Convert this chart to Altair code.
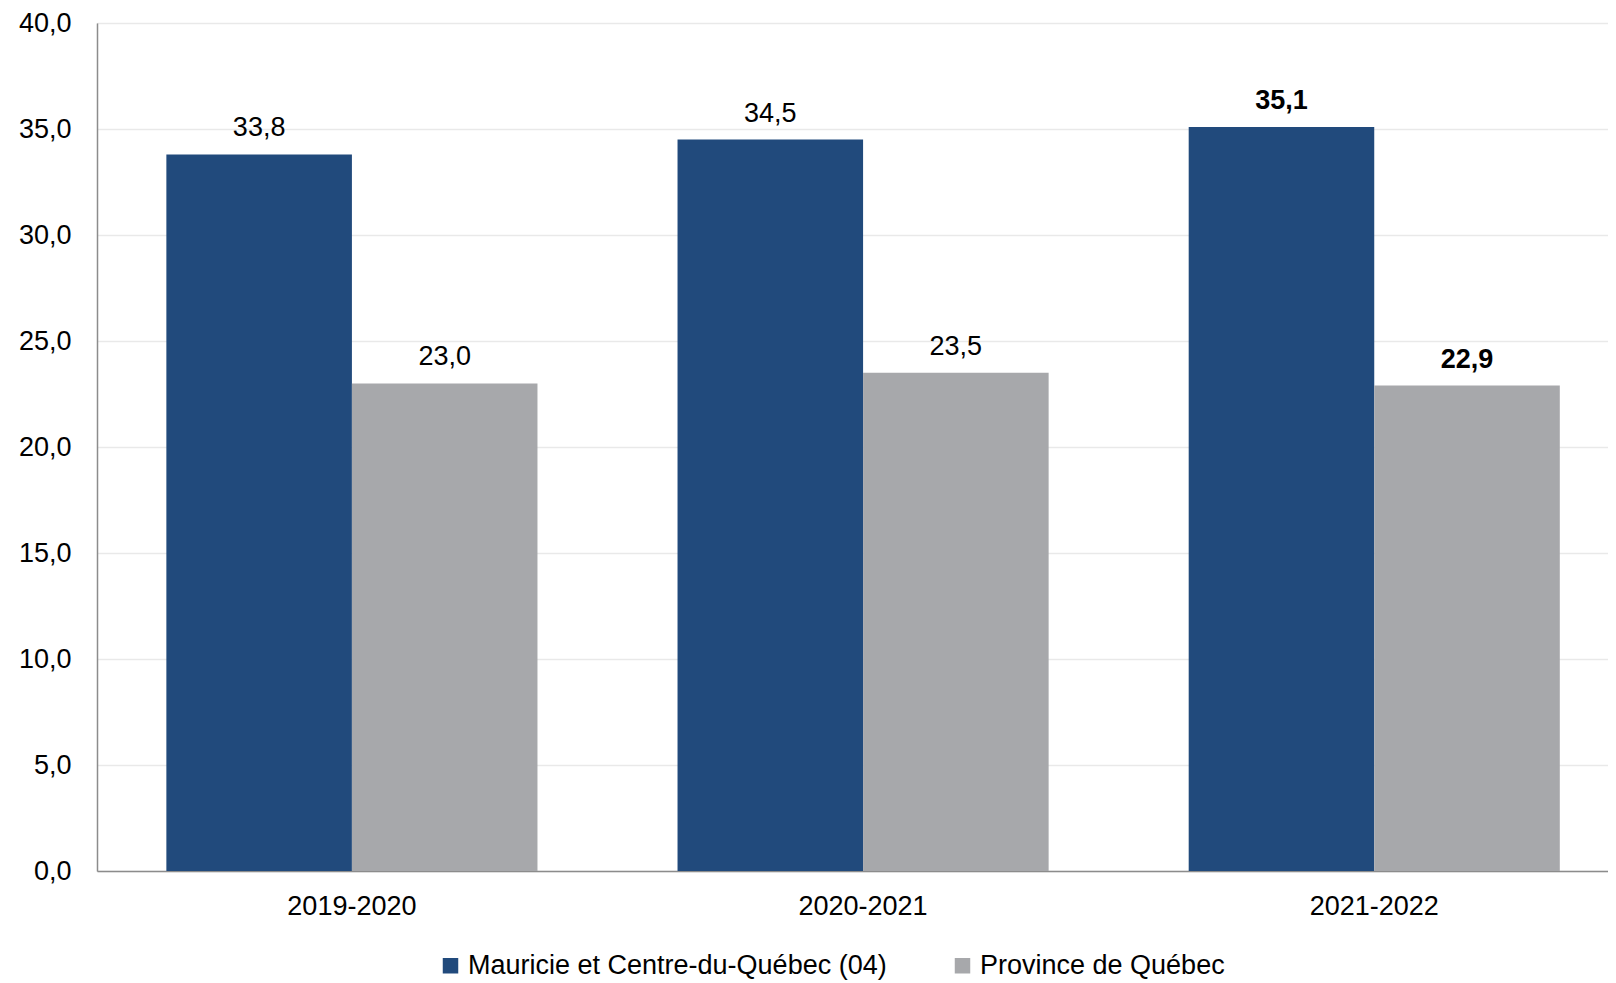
import altair as alt
import pandas as pd

years = ["2019-2020", "2020-2021", "2021-2022"]
series = ["Mauricie et Centre-du-Québec (04)", "Province de Québec"]
region_vals = [33.8, 34.5, 35.1]
province_vals = [23.0, 23.5, 22.9]
bold_years = ["2021-2022"]
colors = ["#214A7C", "#A7A8AB"]

rows = []
for i, y in enumerate(years):
    rows.append({"annee": y, "serie": series[0], "valeur": region_vals[i], "bold": y in bold_years})
    rows.append({"annee": y, "serie": series[1], "valeur": province_vals[i], "bold": y in bold_years})
df = pd.DataFrame(rows)

FONT = "Liberation Sans"
FS = 27

base = alt.Chart(df).encode(
    x=alt.X("annee:N", sort=years, title=None,
            scale=alt.Scale(paddingInner=0.274, paddingOuter=0.115, align=0.59),
            axis=alt.Axis(labelAngle=0, ticks=False, domainColor="#8C8C8C", domainWidth=1.5,
                          labelPadding=22, labelFont=FONT, labelFontSize=FS, labelColor="#000000")),
    xOffset=alt.XOffset("serie:N", sort=series),
)

bars = base.mark_bar().encode(
    y=alt.Y("valeur:Q", title=None,
            scale=alt.Scale(domain=[0, 40], nice=False),
            axis=alt.Axis(values=[0, 5, 10, 15, 20, 25, 30, 35, 40], ticks=False,
                          labelExpr="replace(format(datum.value, '.1f'), '.', ',')",
                          domainColor="#8C8C8C", domainWidth=1.5,
                          gridColor="#E9E9E9", gridWidth=1.5,
                          labelPadding=26, labelFont=FONT, labelFontSize=FS, labelColor="#000000")),
    color=alt.Color("serie:N", sort=series,
                    scale=alt.Scale(domain=series, range=colors),
                    legend=alt.Legend(title=None, orient="none", direction="horizontal",
                                      legendX=340, legendY=929, symbolType="square",
                                      symbolSize=240, symbolStrokeWidth=0, columnPadding=62,
                                      labelFont=FONT, labelFontSize=FS, labelColor="#000000",
                                      labelLimit=0)),
)

labels_normal = base.transform_filter("!datum.bold").transform_calculate(
    lab="replace(format(datum.valeur, '.1f'), '.', ',')"
).mark_text(font=FONT, fontSize=FS, baseline="alphabetic", dy=-18, color="#000000").encode(
    y="valeur:Q", text="lab:N")

labels_bold = base.transform_filter("datum.bold").transform_calculate(
    lab="replace(format(datum.valeur, '.1f'), '.', ',')"
).mark_text(font=FONT, fontSize=FS, fontWeight="bold", baseline="alphabetic", dy=-18, color="#000000").encode(
    y="valeur:Q", text="lab:N")

chart = alt.layer(bars, labels_normal, labels_bold).properties(
    width=1511, height=848,
    autosize=alt.AutoSizeParams(type="none"),
    padding={"left": 89, "top": 15, "right": 0, "bottom": 112},
).configure_view(stroke=None).configure(background="#FFFFFF")

chart.save("out.html", embed_options={"renderer": "svg", "actions": False})
